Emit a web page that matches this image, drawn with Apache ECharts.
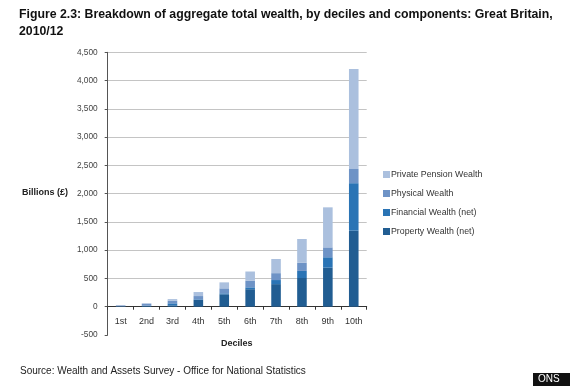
<!DOCTYPE html>
<html><head><meta charset="utf-8">
<script src="https://cdn.jsdelivr.net/npm/echarts@6/dist/echarts.min.js"></script>
<style>html,body{margin:0;padding:0;background:#fff}#c{width:570px;height:386px}</style>
</head><body><div id="c"></div>
<script>
const categories = ['1st','2nd','3rd','4th','5th','6th','7th','8th','9th','10th'];
const propertyWealth = [3, 5, 25, 120, 220, 310, 400, 508, 690, 1345];
const financialWealth = [5, 12, 35, 11, 17, 33, 72, 125, 185, 840];
const physicalWealth = [15, 38, 48, 58, 88, 115, 122, 145, 175, 253];
const pensionWealth = [2, 5, 27, 71, 106, 165, 250, 420, 708, 1767];
const yTicks = [-500, 4500, 500];

const chart = echarts.init(document.getElementById('c'), null, {renderer:'canvas'});
const font = 'Liberation Sans, Arial, sans-serif';
const gridColors = ['rgba(0,0,0,0)'];
for (let i = 0; i < 10; i++) gridColors.push('#c4c4c4');
const mk = (name, data, color) => ({
  name, type:'bar', stack:'w', data, barWidth:'37%',
  itemStyle:{color}, emphasis:{disabled:true}
});
chart.setOption({
  animation:false,
  title:[
    {text:'Figure 2.3: Breakdown of aggregate total wealth, by deciles and components: Great Britain,\n2010/12',
     left:14, top:1, textStyle:{fontFamily:font, fontSize:12.3, fontWeight:'bold', color:'#111', lineHeight:17}},
    {text:'Source: Wealth and Assets Survey - Office for National Statistics',
     left:15, top:361, textStyle:{fontFamily:font, fontSize:10, fontWeight:'normal', color:'#222'}}
  ],
  graphic:[
    {type:'text', left:22, top:188, style:{text:'Billions (£)', font:'bold 9px '+font, fill:'#222'}},
    {type:'text', left:221, top:339, style:{text:'Deciles', font:'bold 9px '+font, fill:'#222'}},
    {type:'rect', shape:{x:533, y:373, width:37, height:13}, style:{fill:'#111'}},
    {type:'text', left:538, top:374, style:{text:'ONS', font:'10px '+font, fill:'#fff'}}
  ],
  legend:{
    orient:'vertical', left:378, top:165, itemGap:10, itemWidth:7, itemHeight:7,
    icon:'rect', data:['Private Pension Wealth','Physical Wealth','Financial Wealth (net)','Property Wealth (net)'],
    textStyle:{fontFamily:font, fontSize:8.8, color:'#333', padding:[0,0,0,-4]},
    selectedMode:false
  },
  grid:{left:107.7, right:203.3, top:52.3, bottom:51},
  xAxis:{
    type:'category', data:categories,
    axisLine:{onZero:true, lineStyle:{color:'#333', width:1}},
    axisTick:{show:true, length:3, lineStyle:{color:'#333'}},
    axisLabel:{fontFamily:font, fontSize:9, color:'#333', margin:-18}
  },
  yAxis:{
    type:'value', min:yTicks[0], max:yTicks[1], interval:yTicks[2],
    axisLine:{show:true, lineStyle:{color:'#555'}},
    axisTick:{show:true, length:3, lineStyle:{color:'#555'}},
    axisLabel:{fontFamily:font, fontSize:8.3, color:'#444', margin:10,
      formatter:v => v.toLocaleString('en-US')},
    splitLine:{show:true, lineStyle:{color:gridColors, width:1}}
  },
  series:[
    mk('Property Wealth (net)', propertyWealth, '#215d92'),
    mk('Financial Wealth (net)', financialWealth, '#2a74b5'),
    mk('Physical Wealth', physicalWealth, '#6e93c6'),
    mk('Private Pension Wealth', pensionWealth, '#abc0de')
  ]
});
</script></body></html>
